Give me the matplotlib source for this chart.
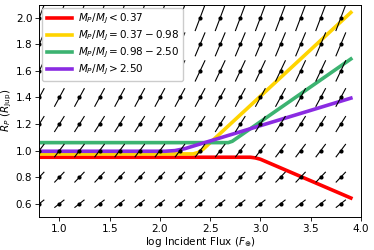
import numpy as np
import matplotlib
matplotlib.use("Agg")
import matplotlib.pyplot as plt
from matplotlib.collections import LineCollection

# Quiver grid
grid_x = [0.8, 1.0, 1.2, 1.4, 1.6, 1.8, 2.0, 2.2, 2.4, 2.6, 2.8, 3.0, 3.2, 3.4, 3.6, 3.8]
grid_y = [0.6, 0.8, 1.0, 1.2, 1.4, 1.6, 1.8, 2.0]

# Mass-bin tracks
red_x = [0.8, 2.9, 2.95, 3.0, 3.9]
red_y = [0.95, 0.95, 0.945, 0.935, 0.643]
yel_x = [0.8, 2.33, 2.38, 2.43, 3.9]
yel_y = [0.975, 0.975, 0.985, 1.01, 2.04]
grn_x = [0.8, 2.68, 2.72, 3.9]
grn_y = [1.06, 1.06, 1.07, 1.69]
pur_x = [0.8, 2.05, 2.15, 2.25, 3.9]
pur_y = [0.995, 0.995, 1.0, 1.015, 1.395]

labels = [r'$M_P/M_J < 0.37$', r'$M_P/M_J = 0.37-0.98$',
          r'$M_P/M_J = 0.98-2.50$', r'$M_P/M_J > 2.50$']
colors = ['#ff0000', '#ffd400', '#3cb371', '#8a2be2']

fig = plt.figure(figsize=(3.74, 2.5), dpi=100)
ax = fig.add_axes([0.105, 0.132, 0.86, 0.85])

for xs, ys, c, lab in zip([red_x, yel_x, grn_x, pur_x], [red_y, yel_y, grn_y, pur_y], colors, labels):
    ax.plot(xs, ys, color=c, lw=2.6, label=lab, zorder=2)

# direction field: dx = 1, dy = R, scaled by 1/10 in data units, centred on grid points
X, Y = np.meshgrid(grid_x, grid_y)
U = np.ones_like(X) / 10.0
V = Y / 10.0
segs = np.stack([np.stack([X - U / 2, Y - V / 2], axis=-1).reshape(-1, 2),
                 np.stack([X + U / 2, Y + V / 2], axis=-1).reshape(-1, 2)], axis=1)
ax.add_collection(LineCollection(segs, colors='k', linewidths=0.8, zorder=3))
ax.scatter(X.ravel(), Y.ravel(), s=9, c='k', zorder=4, linewidths=0)

ax.set_xlim(0.8, 4.0)
ax.set_ylim(0.5, 2.1)
ax.set_xticks([1.0, 1.5, 2.0, 2.5, 3.0, 3.5, 4.0])
ax.set_yticks([0.6, 0.8, 1.0, 1.2, 1.4, 1.6, 1.8, 2.0])
ax.tick_params(labelsize=7.5, length=3, width=0.6, pad=2)
for s in ax.spines.values():
    s.set_linewidth(0.7)
ax.set_xlabel(r'log Incident Flux ($F_{\oplus}$)', fontsize=7.5, labelpad=1)
ax.set_ylabel(r'$R_P$ ($R_{\rm Jup}$)', fontsize=7.5, labelpad=1)

leg = ax.legend(loc='upper left', fontsize=7.5, handlelength=2.4, framealpha=1,
                borderaxespad=0.3, labelspacing=0.25, handletextpad=0.6)
leg.set_zorder(10)

fig.savefig('out.png', dpi=100)
